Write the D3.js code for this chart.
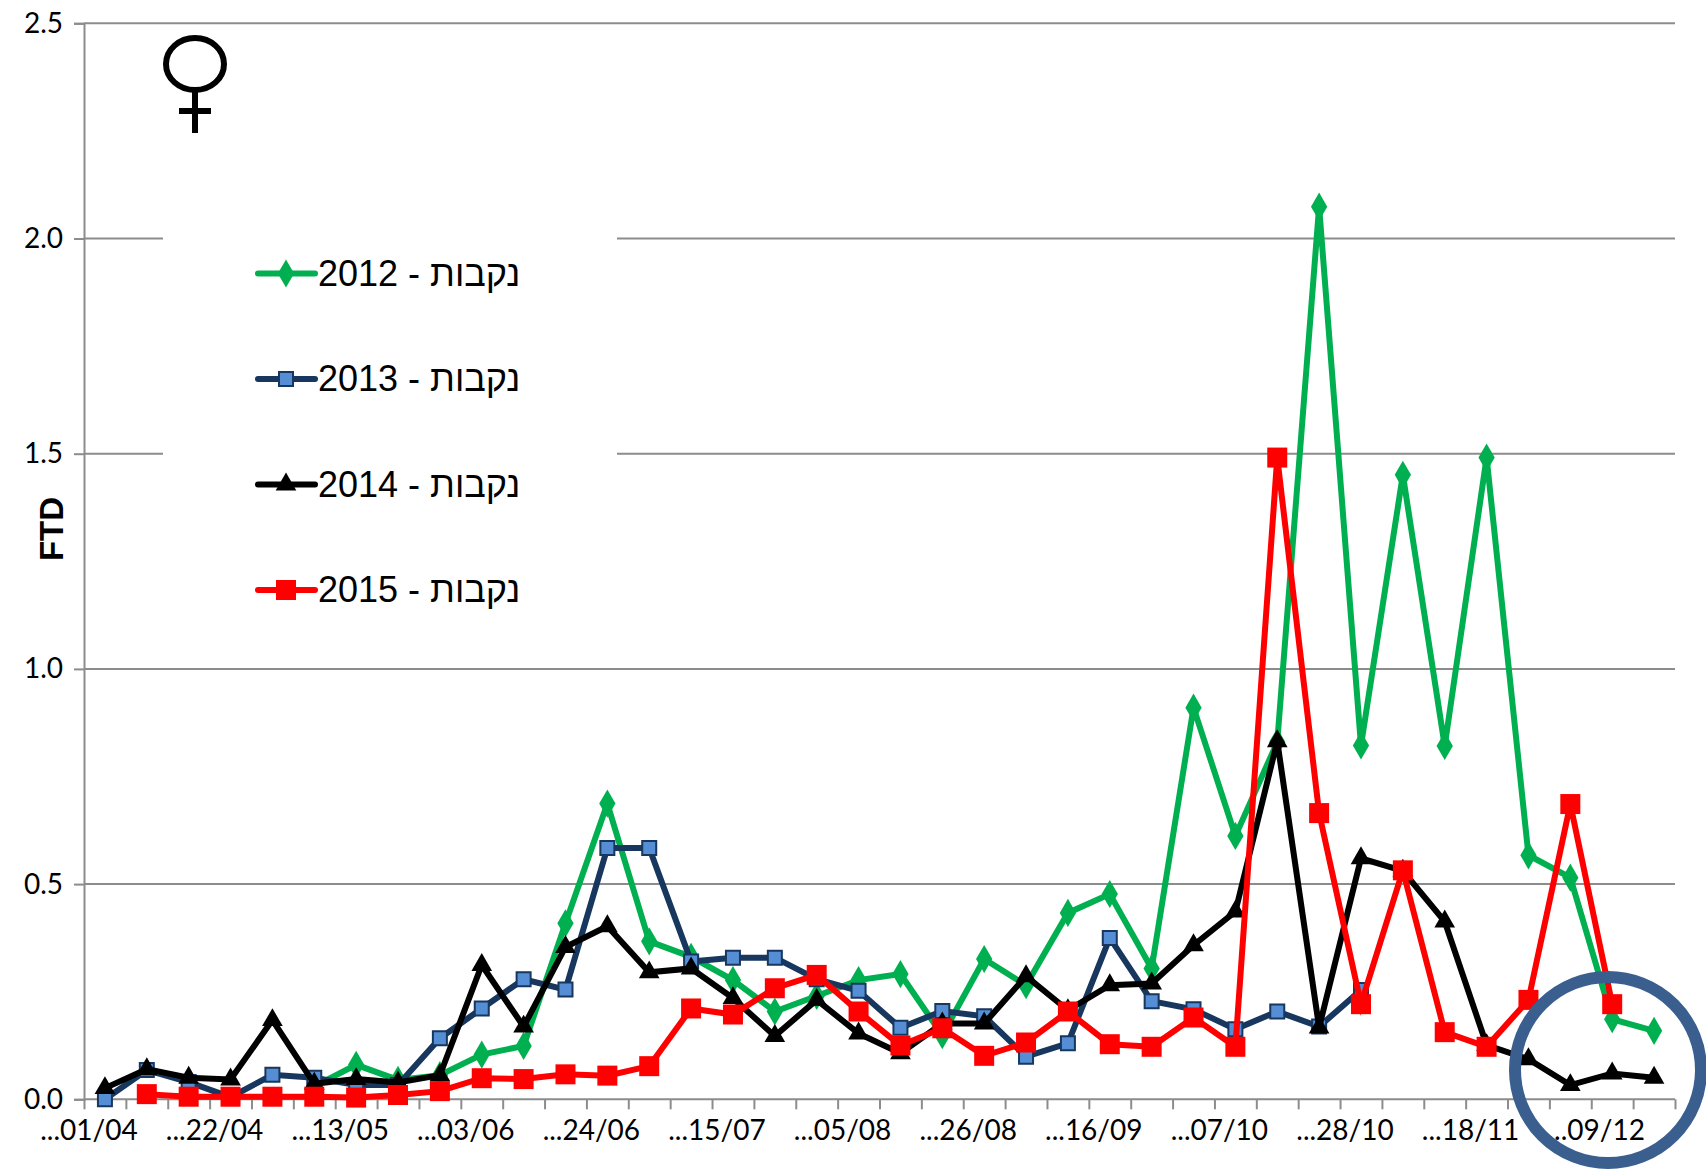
<!DOCTYPE html>
<html>
<head>
<meta charset="utf-8">
<script src="https://d3js.org/d3.v7.min.js"></script>
<style>
  html, body { margin: 0; padding: 0; background: #fff; overflow: hidden; }
  svg { display: block; }
  .axis-label { font-family: Lato, sans-serif; font-size: 28px; fill: #000; }
  .legend-label { font-family: "Liberation Sans", Arial, sans-serif; font-size: 36px; fill: #000; }
</style>
</head>
<body>
<svg width="1706" height="1169"></svg>
<script>
var categories = ["01/04","08/04","15/04","22/04","29/04","06/05","13/05","20/05","27/05","03/06",
  "10/06","17/06","24/06","01/07","08/07","15/07","22/07","29/07","05/08","12/08",
  "19/08","26/08","02/09","09/09","16/09","23/09","30/09","07/10","14/10","21/10",
  "28/10","04/11","11/11","18/11","25/11","02/12","09/12","16/12"];

var labelledDates = ["01/04","22/04","13/05","03/06","24/06","15/07","05/08","26/08","16/09","07/10","28/10","18/11","09/12"];
var yTicks = [0, 0.5, 1, 1.5, 2, 2.5];

var values2012 = [null,null,null,null,null,0.03,0.08,0.045,0.056,0.104,0.124,0.409,0.687,0.367,0.331,0.277,0.204,0.24,0.277,0.291,
  0.149,0.326,0.265,0.433,0.477,0.304,0.91,0.612,0.83,2.074,0.822,1.451,0.821,1.491,0.567,0.515,0.186,0.159];
var values2013 = [0,0.068,0.04,0.005,0.057,0.05,0.033,0.033,0.142,0.211,0.279,0.255,0.584,0.584,0.32,0.329,0.329,0.279,0.252,0.166,
  0.205,0.193,0.099,0.13,0.375,0.228,0.209,0.163,0.204,0.169,0.254,null,null,null,null,null,null,null];
var values2014 = [0.026,0.07,0.05,0.046,0.184,0.036,0.047,0.039,0.056,0.312,0.169,0.354,0.402,0.295,0.304,0.235,0.147,0.231,0.153,0.107,
  0.176,0.176,0.286,0.207,0.265,0.269,0.358,0.436,0.832,0.167,0.56,0.531,0.413,0.126,0.093,0.033,0.06,0.05];
var values2015 = [null,0.012,0.006,0.006,0.006,0.006,0.004,0.01,0.019,0.049,0.047,0.058,0.055,0.077,0.211,0.197,0.258,0.289,0.204,0.125,
  0.165,0.101,0.132,0.204,0.128,0.122,0.19,0.122,1.491,0.665,0.221,0.532,0.156,0.122,0.231,0.686,0.221,null];

var seriesNames = ["2012 - נקבות", "2013 - נקבות", "2014 - נקבות", "2015 - נקבות"];

var series = [
  { name: seriesNames[0], values: values2012, line: "#00b050", fill: "#00b050", stroke: "none", symbol: d3.symbolDiamond, size: 230 },
  { name: seriesNames[1], values: values2013, line: "#17375e", fill: "#558ed5", stroke: "#17375e", symbol: d3.symbolSquare, size: 196 },
  { name: seriesNames[2], values: values2014, line: "#000000", fill: "#000000", stroke: "none", symbol: d3.symbolTriangle, size: 185 },
  { name: seriesNames[3], values: values2015, line: "#ff0000", fill: "#ff0000", stroke: "none", symbol: d3.symbolSquare, size: 400 }
];

var svg = d3.select("svg"),
  margin = { top: 23.3, right: 31, bottom: 69.7, left: 84 },
  width = +svg.attr("width") - margin.left - margin.right,
  height = +svg.attr("height") - margin.top - margin.bottom;

var x = d3.scaleBand().domain(categories).range([0, width]);
var xEdge = d3.scaleLinear().domain([0, categories.length]).range([0, width]);
var y = d3.scaleLinear().domain([0, 2.5]).range([height, 0]);

var gridColor = "#8c8c8c";

var focus = svg.append("g")
  .attr("transform", "translate(" + margin.left + "," + margin.top + ")");

// horizontal gridlines + y labels
var yAxis = focus.append("g")
  .attr("class", "axis axis--y")
  .call(d3.axisLeft(y).tickValues(yTicks).tickFormat(d3.format(".1f")).tickSize(10).tickPadding(11));
yAxis.select(".domain").attr("stroke", gridColor).attr("stroke-width", 2);
yAxis.selectAll(".tick line").attr("stroke", gridColor).attr("stroke-width", 2);
yAxis.selectAll("text").attr("class", "axis-label").style("font-family", null).style("font-size", null);
yAxis.attr("font-family", null).attr("font-size", null);

focus.append("g")
  .selectAll("line")
  .data(yTicks)
  .enter()
  .append("line")
  .attr("x1", 0)
  .attr("x2", width)
  .attr("y1", function(d) { return y(d); })
  .attr("y2", function(d) { return y(d); })
  .attr("stroke", gridColor)
  .attr("stroke-width", 2);

// week boundaries on the x axis
var xTicks = focus.append("g")
  .attr("transform", "translate(0," + height + ")")
  .call(d3.axisBottom(xEdge).tickValues(d3.range(categories.length + 1)).tickFormat("").tickSize(10));
xTicks.select(".domain").remove();
xTicks.selectAll(".tick line").attr("stroke", gridColor).attr("stroke-width", 2);

var xLabels = focus.append("g")
  .attr("transform", "translate(0," + height + ")")
  .call(d3.axisBottom(x).tickValues(labelledDates).tickFormat(function(d) { return "..." + d; }).tickSize(0).tickPadding(21));
xLabels.select(".domain").remove();
xLabels.attr("font-family", null).attr("font-size", null);
xLabels.selectAll("text").attr("class", "axis-label").attr("dx", -16);

// legend sits on a white box that hides the gridlines
svg.append("rect")
  .attr("x", 163).attr("y", 200)
  .attr("width", 454).attr("height", 440)
  .attr("fill", "#fff");

var line = d3.line()
  .defined(function(d) { return d.value !== null; })
  .x(function(d) { return x(d.date) + x.bandwidth() / 2; })
  .y(function(d) { return y(d.value); });

series.forEach(function(s) {
  var pts = s.values.map(function(v, i) { return { date: categories[i], value: v }; });

  focus.append("path")
    .datum(pts)
    .attr("fill", "none")
    .attr("stroke", s.line)
    .attr("stroke-width", 6)
    .attr("stroke-linejoin", "miter")
    .attr("d", line);

  focus.append("g")
    .selectAll("path")
    .data(pts.filter(function(d) { return d.value !== null; }))
    .enter()
    .append("path")
    .attr("d", d3.symbol().type(s.symbol).size(s.size))
    .attr("transform", function(d) {
      return "translate(" + (x(d.date) + x.bandwidth() / 2) + "," + y(d.value) + ")";
    })
    .attr("fill", s.fill)
    .attr("stroke", s.stroke)
    .attr("stroke-width", 2);
});

// legend
var legend = svg.append("g");
var legendRow = d3.scalePoint().domain(seriesNames).range([273.5, 590]);

series.forEach(function(s) {
  var row = legend.append("g").attr("transform", "translate(258," + legendRow(s.name) + ")");
  row.append("line")
    .attr("x1", 0).attr("x2", 57)
    .attr("stroke", s.line)
    .attr("stroke-width", 6)
    .attr("stroke-linecap", "round");
  row.append("path")
    .attr("d", d3.symbol().type(s.symbol).size(s.size))
    .attr("transform", "translate(28,0)")
    .attr("fill", s.fill)
    .attr("stroke", s.stroke)
    .attr("stroke-width", 2);
  row.append("text")
    .attr("class", "legend-label")
    .attr("x", 60)
    .attr("y", 12)
    .attr("direction", "ltr")
    .text(s.name);
});

// y axis title
svg.append("text")
  .attr("transform", "translate(63,529) rotate(-90)")
  .style("text-anchor", "middle")
  .style("font-family", "'Liberation Sans', Arial, sans-serif")
  .style("font-weight", "bold")
  .style("font-size", "33px")
  .text("FTD");

// female sign
var venus = svg.append("g")
  .attr("fill", "none")
  .attr("stroke", "#000")
  .attr("stroke-width", 6);
venus.append("ellipse").attr("cx", 195).attr("cy", 64).attr("rx", 29).attr("ry", 26);
venus.append("line").attr("x1", 195).attr("x2", 195).attr("y1", 92).attr("y2", 133);
venus.append("line").attr("x1", 179).attr("x2", 211).attr("y1", 111).attr("y2", 111);

// circle around the last weeks
svg.append("circle")
  .attr("cx", 1608).attr("cy", 1070).attr("r", 93)
  .attr("fill", "none")
  .attr("stroke", "#3a5f8f")
  .attr("stroke-width", 12);
</script>
</body>
</html>
